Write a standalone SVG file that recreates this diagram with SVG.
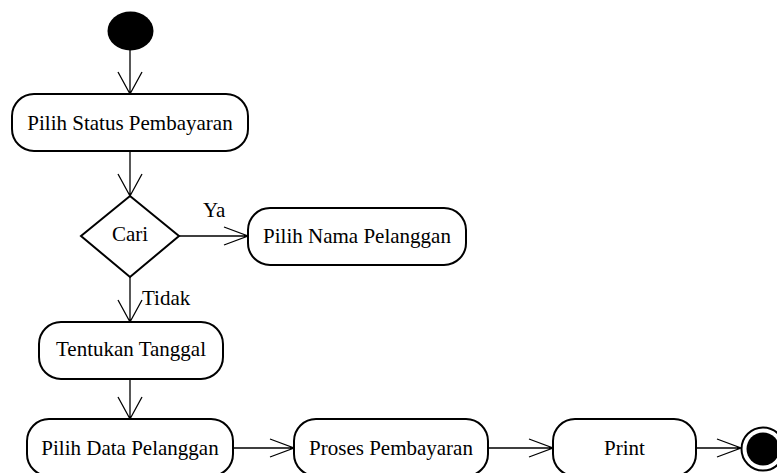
<svg xmlns="http://www.w3.org/2000/svg" width="777" height="473" viewBox="0 0 777 473">
<style>
.box{fill:#fff;stroke:#000;stroke-width:2}
.c{fill:none;stroke:#000;stroke-width:1.3}
</style>
<rect width="777" height="473" fill="#fff"/>
<g id="connectors">
<path class="c" d="M130 50V94M118 72L130 94L142 72"/>
<path class="c" d="M130 151V196M118 174L130 196L142 174"/>
<path class="c" d="M179 236H248M224 227L248 236L224 245"/>
<path class="c" d="M130 277V322M118 300L130 322L142 300"/>
<path class="c" d="M130 379V419M118 397L130 419L142 397"/>
<path class="c" d="M233 448H294M270 439L294 448L270 457"/>
<path class="c" d="M488 448H553M529 439L553 448L529 457"/>
<path class="c" d="M696 448H741M717 439L741 448L717 457"/>
<text x="203" y="217" font-family="Liberation Serif" font-size="21">Ya</text>
<text x="142" y="305" font-family="Liberation Serif" font-size="21">Tidak</text>
</g>
<g id="start"><ellipse cx="130.5" cy="31" rx="23" ry="19.5" fill="#000"/></g>
<g id="pilih-status"><rect class="box" x="12" y="94" width="236" height="57" rx="22"/><text x="130" y="130" text-anchor="middle" font-family="Liberation Serif" font-size="21">Pilih Status Pembayaran</text></g>
<g id="cari"><polygon class="box" points="130,196 179,236 130,277 81,236"/><text x="130" y="241" text-anchor="middle" font-family="Liberation Serif" font-size="21">Cari</text></g>
<g id="pilih-nama"><rect class="box" x="248" y="208" width="218" height="57" rx="22"/><text x="357" y="243" text-anchor="middle" font-family="Liberation Serif" font-size="21">Pilih Nama Pelanggan</text></g>
<g id="tentukan"><rect class="box" x="39" y="322" width="184" height="57" rx="22"/><text x="131" y="356" text-anchor="middle" font-family="Liberation Serif" font-size="21">Tentukan Tanggal</text></g>
<g id="pilih-data"><rect class="box" x="27" y="419" width="206" height="57" rx="22"/><text x="130" y="455" text-anchor="middle" font-family="Liberation Serif" font-size="21">Pilih Data Pelanggan</text></g>
<g id="proses"><rect class="box" x="294" y="419" width="194" height="57" rx="22"/><text x="391" y="455" text-anchor="middle" font-family="Liberation Serif" font-size="21">Proses Pembayaran</text></g>
<g id="print"><rect class="box" x="553" y="419" width="143" height="57" rx="22"/><text x="624.5" y="455" text-anchor="middle" font-family="Liberation Serif" font-size="21">Print</text></g>
<g id="end"><circle cx="763" cy="449" r="21.5" fill="#fff" stroke="#000" stroke-width="2"/><circle cx="763" cy="449" r="16.5" fill="#000"/></g>
</svg>
